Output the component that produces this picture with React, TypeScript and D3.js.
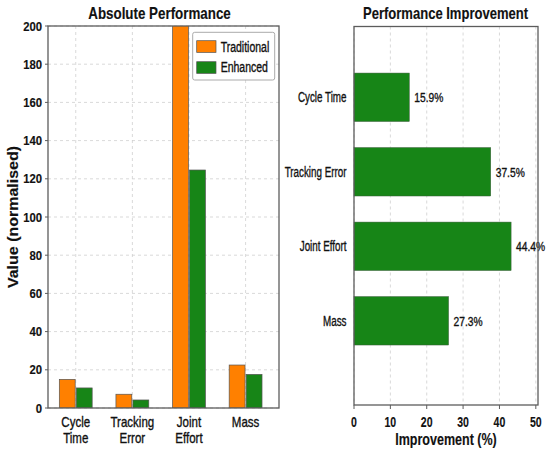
import React from 'react';
import * as d3 from 'd3';

const categories = ['Cycle Time', 'Tracking Error', 'Joint Effort', 'Mass'];
const traditional = [15.0, 7.2, 224, 22.5];
const enhanced = [10.5, 4.2, 124.6, 17.6];
const improvement = [15.2, 37.6, 43.2, 26.0];
const improvementLabels = ['15.9%', '37.5%', '44.4%', '27.3%'];
const yTicks = [0, 20, 40, 60, 80, 100, 120, 140, 160, 180, 200];
const xTicks = [0, 10, 20, 30, 40, 50];

const ORANGE = '#ff8000';
const GREEN = '#178517';
const FONT = '"Liberation Sans", Arial, sans-serif';

// squeezed text helper (the reference text is horizontally condensed)
function T({ x, y, sx = 1, size = 13, weight = 'normal', anchor = 'start', rotate = 0, children }: any) {
  return (
    <text
      transform={`translate(${x},${y}) scale(${sx},1)${rotate ? ` rotate(${rotate})` : ''}`}
      fontSize={size}
      fontWeight={weight}
      textAnchor={anchor}
      fontFamily={FONT}
      fill="#111"
      stroke="#111"
      strokeWidth={weight === 'bold' ? 0.15 : 0.35}
    >
      {children}
    </text>
  );
}

export default function App() {
  // left panel
  const L = { left: 48, right: 279, top: 26, bottom: 408 };
  const y = d3.scaleLinear().domain([0, 200]).range([L.bottom, L.top]);
  const xi = d3.scaleLinear().domain([-0.49, 3.59]).range([L.left, L.right]);
  const bw = 0.28;
  const off = 0.15;

  // right panel
  const R = { left: 354, right: 538, top: 26.5, bottom: 405 };
  const x = d3.scaleLinear().domain([0, 50.6]).range([R.left, R.right]);
  const yi = d3.scaleLinear().domain([-0.95, 4.13]).range([R.top, R.bottom]);
  const bh = 0.65;

  const grid = '#cfcfcf';
  const frame = '#5c5c5c';

  return (
    <div style={{ position: 'absolute', left: 0, top: 0 }}>
      <svg width={550} height={457} style={{ display: 'block', background: '#fff' }}>
        <defs>
          <clipPath id="clipL">
            <rect x={L.left} y={L.top} width={L.right - L.left} height={L.bottom - L.top} />
          </clipPath>
        </defs>

        {/* ---------- Absolute Performance ---------- */}
        <T x={159.5} y={19} sx={0.82} size={16.3} weight="bold" anchor="middle">Absolute Performance</T>

        {yTicks.map(t => (
          <line key={`gy${t}`} x1={L.left} x2={L.right} y1={y(t)} y2={y(t)} stroke={grid} strokeDasharray="3,3" strokeWidth={0.8} />
        ))}
        {categories.map((c, i) => (
          <line key={`gx${c}`} x1={xi(i)} x2={xi(i)} y1={L.top} y2={L.bottom} stroke={grid} strokeDasharray="3,3" strokeWidth={0.8} />
        ))}

        <g clipPath="url(#clipL)">
          {categories.map((c, i) => (
            <g key={c}>
              <rect
                x={xi(i - off - bw / 2)}
                y={y(traditional[i])}
                width={xi(bw) - xi(0)}
                height={y(0) - y(traditional[i])}
                fill={ORANGE}
                stroke="#555"
                strokeWidth={0.7}
              />
              <rect
                x={xi(i + off - bw / 2)}
                y={y(enhanced[i])}
                width={xi(bw) - xi(0)}
                height={y(0) - y(enhanced[i])}
                fill={GREEN}
                stroke="#555"
                strokeWidth={0.7}
              />
            </g>
          ))}
        </g>

        <rect x={L.left} y={L.top} width={L.right - L.left} height={L.bottom - L.top} fill="none" stroke={frame} strokeWidth={1.3} />

        {yTicks.map(t => (
          <g key={`ty${t}`}>
            <line x1={L.left - 3} x2={L.left} y1={y(t)} y2={y(t)} stroke={frame} />
            <T x={42} y={y(t) + 4.6} sx={0.87} size={13} weight="bold" anchor="end">{t}</T>
          </g>
        ))}

        {categories.map((c, i) => {
          const words = c.split(' ');
          const lines = words.length > 1 ? words : [c];
          return lines.map((w, k) => (
            <T key={`${c}${k}`} x={xi(i)} y={426.7 + k * 16.6} sx={0.8} size={14.4} anchor="middle">{w}</T>
          ));
        })}

        <T x={17.5} y={217} sx={0.87} size={16} weight="bold" anchor="middle" rotate={-90}>Value (normalised)</T>

        {/* legend */}
        <rect x={192.7} y={32.3} width={82} height={47.7} rx={2} fill="#fff" stroke="#aaa" strokeWidth={1} />
        <rect x={196.7} y={40.7} width={19.3} height={11.7} fill={ORANGE} stroke="#555" strokeWidth={0.7} />
        <rect x={196.7} y={61.7} width={19.3} height={11.7} fill={GREEN} stroke="#555" strokeWidth={0.7} />
        <T x={220.7} y={51.7} sx={0.75} size={14}>Traditional</T>
        <T x={220.7} y={72.3} sx={0.75} size={14}>Enhanced</T>

        {/* ---------- Performance Improvement ---------- */}
        <T x={445.5} y={19} sx={0.78} size={16.7} weight="bold" anchor="middle">Performance Improvement</T>

        {xTicks.map(t => (
          <line key={`gx2${t}`} x1={x(t)} x2={x(t)} y1={R.top} y2={R.bottom} stroke={grid} strokeDasharray="3,3" strokeWidth={0.8} />
        ))}

        {categories.map((c, i) => (
          <g key={`h${c}`}>
            <rect
              x={x(0)}
              y={yi(i - bh / 2)}
              width={x(improvement[i]) - x(0)}
              height={yi(bh) - yi(0)}
              fill={GREEN}
              stroke="#3a5a3a"
              strokeWidth={0.5}
            />
            <T x={R.left - 7.5} y={yi(i) + 5} sx={0.66} size={14.9} anchor="end">{c}</T>
            <T x={x(improvement[i]) + 5} y={yi(i) + 5} sx={0.76} size={13.5}>{improvementLabels[i]}</T>
          </g>
        ))}

        <rect x={R.left} y={R.top} width={R.right - R.left} height={R.bottom - R.top} fill="none" stroke={frame} strokeWidth={1.3} />

        {xTicks.map(t => (
          <g key={`tx${t}`}>
            <line x1={x(t)} x2={x(t)} y1={R.bottom} y2={R.bottom + 4} stroke={frame} />
            <T x={x(t)} y={426.7} sx={0.68} size={15.5} weight="bold" anchor="middle">{t}</T>
          </g>
        ))}

        <T x={446} y={445} sx={0.75} size={16.7} weight="bold" anchor="middle">Improvement (%)</T>
      </svg>
    </div>
  );
}
